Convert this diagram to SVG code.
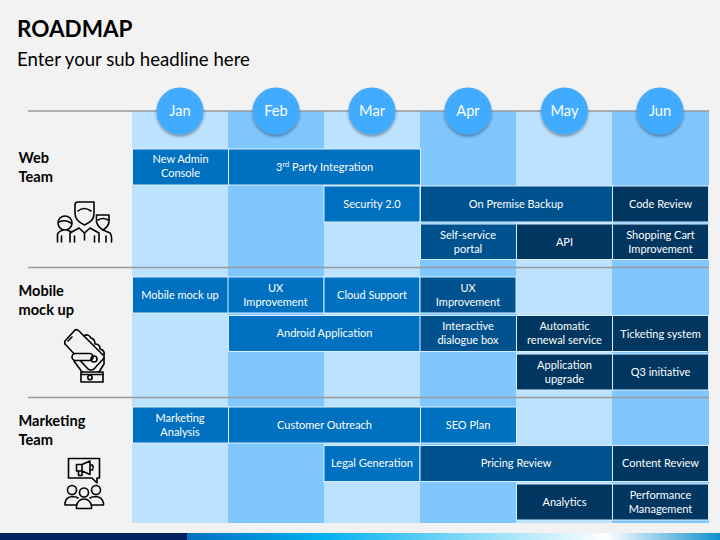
<svg xmlns="http://www.w3.org/2000/svg" width="720" height="540" viewBox="0 0 720 540">
<style>
text{font-family:"Lato","Liberation Sans",sans-serif}
.bar rect{stroke:#D9EEFF;stroke-width:1}
.bar text{fill:#fff;font-size:11px;text-anchor:middle}
.b1 rect{fill:#0070C0}.b2 rect{fill:#00528F}.b3 rect{fill:#00365F}
.m text{fill:#fff;font-size:14.6px;text-anchor:middle}
.m circle{fill:#3FABFF}
.t{font-size:14.6px;font-weight:700;fill:#000}
.r{stroke:#97999C;stroke-width:1.6;fill:none}
.ic *{fill:none;stroke:#000;stroke-width:1.6;stroke-linejoin:round;stroke-linecap:round}
</style>
<defs>
<linearGradient id="fg" x1="187" x2="720" y1="0" y2="0" gradientUnits="userSpaceOnUse">
<stop offset="0" stop-color="#0070C0"/><stop offset=".25" stop-color="#00B0F0"/><stop offset=".786" stop-color="#FFFFFF"/><stop offset="1" stop-color="#0F8FD0"/>
</linearGradient>
<filter id="sh" x="-20%" y="-20%" width="140%" height="150%"><feDropShadow dx="0" dy="2" stdDeviation="1.5" flood-color="#000" flood-opacity=".4"/></filter>
</defs>
<rect width="720" height="540" fill="#F2F2F2"/>
<rect y="533" width="187" height="7" fill="#002060"/>
<rect x="187" y="533" width="533" height="7" fill="url(#fg)"/>
<text x="17" y="36.500" font-size="22.500" font-weight="700" fill="#000">ROADMAP</text>
<text x="17" y="66" font-size="18.600" fill="#000">Enter your sub headline here</text>
<g id="columns">
<rect x="132" y="111" width="96" height="412" fill="#BDE2FF"/>
<rect x="228" y="111" width="96" height="412" fill="#80C6FF"/>
<rect x="324" y="111" width="96" height="412" fill="#BDE2FF"/>
<rect x="420" y="111" width="96" height="412" fill="#80C6FF"/>
<rect x="516" y="111" width="96" height="412" fill="#BDE2FF"/>
<rect x="612" y="111" width="97" height="412" fill="#80C6FF"/>
</g>
<g id="connectors">
<path class="r" d="M28 111H709M28 267.500H709M28 397.500H709"/>
</g>
<g id="month-jan" class="m"><circle cx="180" cy="111" r="23.500" filter="url(#sh)"/><text x="180" y="116">Jan</text></g>
<g id="month-feb" class="m"><circle cx="276" cy="111" r="23.500" filter="url(#sh)"/><text x="276" y="116">Feb</text></g>
<g id="month-mar" class="m"><circle cx="372" cy="111" r="23.500" filter="url(#sh)"/><text x="372" y="116">Mar</text></g>
<g id="month-apr" class="m"><circle cx="468" cy="111" r="23.500" filter="url(#sh)"/><text x="468" y="116">Apr</text></g>
<g id="month-may" class="m"><circle cx="564.500" cy="111" r="23.500" filter="url(#sh)"/><text x="564.500" y="116">May</text></g>
<g id="month-jun" class="m"><circle cx="660" cy="111" r="23.500" filter="url(#sh)"/><text x="660" y="116">Jun</text></g>

<g id="team-web"><text class="t" x="18.500" y="162.500">Web</text><text class="t" x="18.500" y="182">Team</text></g>
<g id="team-mobile"><text class="t" x="18.500" y="295.500">Mobile</text><text class="t" x="18.500" y="315">mock up</text></g>
<g id="team-marketing"><text class="t" x="18.500" y="425.500">Marketing</text><text class="t" x="18.500" y="445">Team</text></g>

<g id="icon-web" class="ic">
<path d="M75 213V205Q75 202 78 202H94V214Q94 221 84.500 225Q75 221 75 213Z"/>
<path d="M78 211Q84 206 91 211"/>
<path d="M57.500 242V234Q59 231 63 230M61.500 236V242"/>
<circle cx="65" cy="223" r="7"/>
<path d="M59 222Q65 219 71 223"/>
<path d="M67 230L72 232M70 242V233L79 228L84.500 233L90 228L99 233V242M74.500 236V242M94.500 236V242M84.500 233V240"/>
<path d="M96.500 215H109V222Q108 227 103 230Q98 227 96.500 222Z"/>
<path d="M98 220Q103 217 108 220"/>
<path d="M103 230L110 233Q112 235 111.500 242M106 236V242"/>
</g>
<g id="icon-mobile" class="ic">
<path d="M75 330L65 341Q64 344 66 345L88 369Q91 371 94 369L104 358"/>
<path d="M75 330Q77 329 79 331L103 355"/>
<path d="M84 336Q88 333 91 338Q95 339 95 344Q100 344 100 349Q105 350 104 355V364L99 372"/>
<rect x="72" y="353.500" width="21" height="7" rx="3.500" fill="#F2F2F2" style="fill:#F2F2F2"/>
<circle cx="94" cy="359" r="3"/>
<path d="M74 361L82 372"/>
<path d="M68 341L72 337"/>
<rect x="81" y="372" width="22" height="10"/>
<circle cx="90" cy="377.500" r="2.200"/>
<path d="M81 374.500H103"/>
</g>
<g id="icon-marketing" class="ic">
<path d="M68.500 458.500H99.500V478H97V483L92 478H68.500Z"/>
<path d="M76.500 464.500H82L90 461V474.500L82 471H76.500ZM82 464.500V471M78.500 471V475.500H82V471M90 465H92.500Q94 467.500 92.500 470H90"/>
<circle cx="72" cy="490" r="4.500"/><circle cx="96" cy="490" r="4.500"/><circle cx="84" cy="492.500" r="4.500"/>
<path d="M76 505H65V503Q66 497 72 496.500Q76 496.500 78 498"/>
<path d="M92 505H103.500V503Q102 497 96 496.500Q92 496.500 90 498"/>
<path d="M76.500 508.500V506Q78 499 84 499Q90 499 91.500 506V508.500Z"/>
</g>

<g id="n1" class="bar b1"><rect x="132.500" y="149" width="96" height="36"/><text x="180.500" y="163">New Admin</text><text x="180.500" y="177">Console</text></g>
<g id="n2" class="bar b1"><rect x="228.500" y="149" width="192" height="36"/><text x="324.500" y="170.500">3<tspan font-size="7.500" dy="-3.500">rd</tspan><tspan dy="3.500"> Party Integration</tspan></text></g>
<g id="n3" class="bar b1"><rect x="324" y="186" width="96" height="36"/><text x="372" y="208">Security 2.0</text></g>
<g id="n4" class="bar b2"><rect x="420.500" y="186" width="192" height="36"/><text x="516" y="208">On Premise Backup</text></g>
<g id="n5" class="bar b3"><rect x="612.500" y="186" width="96" height="36"/><text x="660.500" y="208">Code Review</text></g>
<g id="n6" class="bar b2"><rect x="420.500" y="224" width="96" height="35.500"/><text x="468" y="239">Self-service</text><text x="468" y="253">portal</text></g>
<g id="n7" class="bar b3"><rect x="516.500" y="224" width="96" height="35.500"/><text x="564.500" y="246">API</text></g>
<g id="n8" class="bar b3"><rect x="612.500" y="224" width="96" height="35.500"/><text x="660.500" y="239">Shopping Cart</text><text x="660.500" y="253">Improvement</text></g>

<g id="n9" class="bar b1"><rect x="132.500" y="277" width="96" height="36"/><text x="180" y="299">Mobile mock up</text></g>
<g id="n10" class="bar b1"><rect x="228" y="277" width="96" height="36"/><text x="275.500" y="292">UX</text><text x="275.500" y="306">Improvement</text></g>
<g id="n11" class="bar b1"><rect x="324" y="277" width="96" height="36"/><text x="372" y="299">Cloud Support</text></g>
<g id="n12" class="bar b2"><rect x="420" y="277" width="96" height="36"/><text x="468" y="292">UX</text><text x="468" y="306">Improvement</text></g>
<g id="n13" class="bar b1"><rect x="228.500" y="315.500" width="192" height="36"/><text x="324.500" y="336.500">Android Application</text></g>
<g id="n14" class="bar b2"><rect x="420" y="315.500" width="96.500" height="36"/><text x="468" y="330">Interactive</text><text x="468" y="344">dialogue box</text></g>
<g id="n15" class="bar b3"><rect x="516.500" y="315.500" width="96" height="36"/><text x="564.500" y="330">Automatic</text><text x="564.500" y="344">renewal service</text></g>
<g id="n16" class="bar b3"><rect x="612.500" y="315.500" width="96" height="36"/><text x="660.500" y="337.500">Ticketing system</text></g>
<g id="n17" class="bar b3"><rect x="516.500" y="354" width="96" height="36"/><text x="564.500" y="369">Application</text><text x="564.500" y="383">upgrade</text></g>
<g id="n18" class="bar b3"><rect x="612.500" y="354" width="96" height="36"/><text x="660.500" y="376">Q3 initiative</text></g>

<g id="n19" class="bar b1"><rect x="132.500" y="407" width="96" height="36"/><text x="180" y="422">Marketing</text><text x="180" y="436">Analysis</text></g>
<g id="n20" class="bar b1"><rect x="228.500" y="407" width="192" height="36"/><text x="324.500" y="429">Customer Outreach</text></g>
<g id="n21" class="bar b1"><rect x="420.500" y="407" width="96" height="36"/><text x="468" y="429">SEO Plan</text></g>
<g id="n22" class="bar b1"><rect x="324" y="445.500" width="96" height="36"/><text x="372" y="467">Legal Generation</text></g>
<g id="n23" class="bar b2"><rect x="420" y="445.500" width="192.500" height="36"/><text x="516" y="467">Pricing Review</text></g>
<g id="n24" class="bar b3"><rect x="612.500" y="445.500" width="96" height="36"/><text x="660.500" y="467">Content Review</text></g>
<g id="n25" class="bar b3"><rect x="516.500" y="484" width="96" height="36"/><text x="564.500" y="506">Analytics</text></g>
<g id="n26" class="bar b3"><rect x="612.500" y="484" width="96" height="36"/><text x="660.500" y="499">Performance</text><text x="660.500" y="513">Management</text></g>
</svg>
